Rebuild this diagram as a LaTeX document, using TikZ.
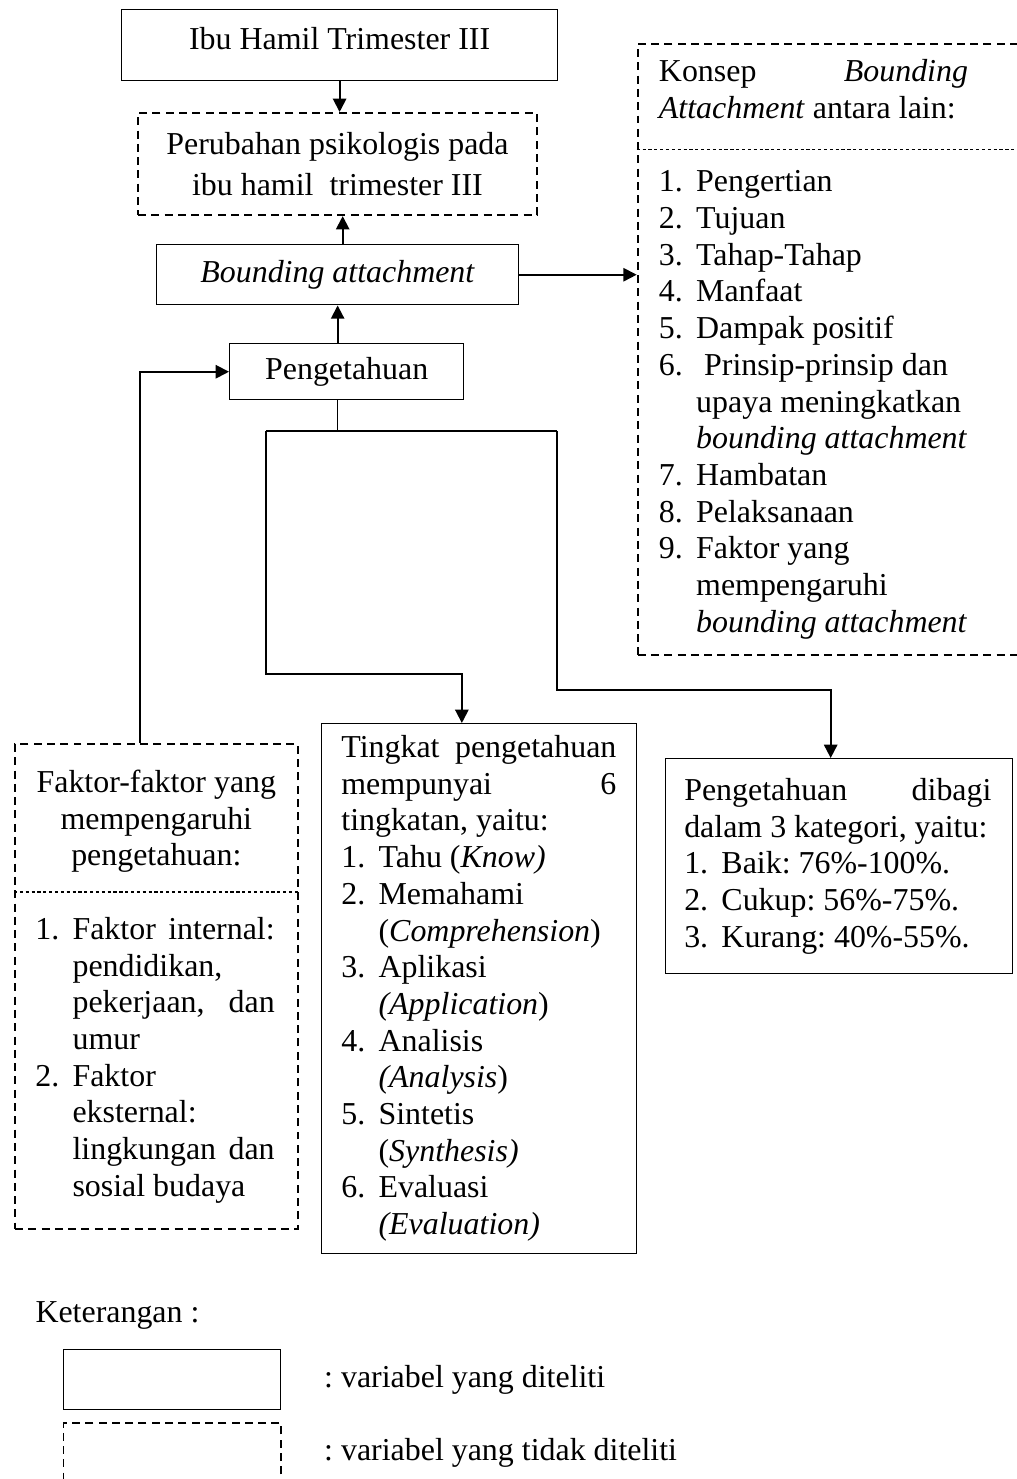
\documentclass[tikz,border=0pt]{standalone}
\usepackage{fontspec}
\setmainfont{Liberation Serif}
\usetikzlibrary{arrows.meta}
\newcommand{\itm}[2]{\makebox[14pt][l]{#1}#2}
\newcommand{\itmc}[1]{\hspace*{14pt}#1}

\begin{document}
\begin{tikzpicture}[x=0.376pt, y=-0.376pt,
  every node/.style={font=\fontsize{12}{13.8}\selectfont\frenchspacing, inner sep=0pt,
    execute at begin node={\spaceskip=0pt\xspaceskip=0pt\relax}},
  box/.style={draw, line width=0.5pt, anchor=north west},
  dbox/.style={draw, line width=0.75pt, dash pattern=on 3pt off 2pt, anchor=north west},
  divline/.style={line width=0.4pt, dash pattern=on 1.2pt off 1pt},
  arr/.style={line width=0.7pt, -{Triangle[length=\l, width=\w]}},
  wire/.style={line width=0.6pt}]
\def\l{5pt}
\def\w{5pt}

\useasboundingbox (0,0) rectangle (1017,1479);

\node[box, minimum width=163.9pt, text height=14.8pt, text depth=11.9pt] (ibu) at (121,9) {Ibu Hamil Trimester III};
\node[dbox, minimum width=150pt, minimum height=38.4pt, align=center] (psiko) at (137,112) {Perubahan psikologis pada\\[1.9pt]ibu hamil~ trimester III};
\node[box, minimum width=136.1pt, minimum height=22.6pt] (bond) at (156,244) {\textit{Bounding attachment}};
\node[box, minimum width=88pt, minimum height=21.1pt] (peng) at (229,343) {Pengetahuan};

\node[dbox, minimum width=151.6pt, minimum height=229.8pt, text width=135.6pt] (konsep) at (636.7,42.7) {%
\makebox[116.2pt]{Konsep\hfill\textit{Bounding}}\\
\textit{Attachment} antara lain:\\[13.8pt]
\itm{1.}{Pengertian}\\
\itm{2.}{Tujuan}\\
\itm{3.}{Tahap-Tahap}\\
\itm{4.}{Manfaat}\\
\itm{5.}{Dampak positif}\\
\itm{6.}{\ Prinsip-prinsip dan}\\
\itmc{upaya meningkatkan}\\
\itmc{\textit{bounding attachment}}\\
\itm{7.}{Hambatan}\\
\itm{8.}{Pelaksanaan}\\
\itm{9.}{Faktor yang}\\
\itmc{mempengaruhi}\\
\itmc{\textit{bounding attachment}}};

\node[dbox, minimum width=106.3pt, minimum height=182.4pt, text width=91pt] (faktor) at (14,743) {%
\makebox[91pt]{Faktor-faktor yang}\\
\makebox[91pt]{mempengaruhi}\\
\makebox[91pt]{pengetahuan:}\\[13.8pt]
\itm{1.}{\makebox[76pt]{Faktor\hfill internal:}}\\
\itmc{pendidikan,}\\
\itmc{\makebox[76pt]{pekerjaan,\hfill dan}}\\
\itmc{umur}\\
\itm{2.}{Faktor}\\
\itmc{eksternal:}\\
\itmc{\makebox[76pt]{lingkungan\hfill dan}}\\
\itmc{sosial budaya}};

\node[box, minimum width=118.6pt, minimum height=199.1pt, text width=103.4pt] (tingkat) at (320.5,723) {%
\makebox[103.4pt]{Tingkat\hfill pengetahuan}\\
\makebox[103.4pt]{mempunyai\hfill 6}\\
tingkatan, yaitu:\\
\itm{1.}{Tahu (\textit{Know)}}\\
\itm{2.}{Memahami}\\
\itmc{(\textit{Comprehension})}\\
\itm{3.}{Aplikasi}\\
\itmc{\textit{(Application})}\\
\itm{4.}{Analisis}\\
\itmc{\textit{(Analysis})}\\
\itm{5.}{Sintetis}\\
\itmc{(\textit{Synthesis)}}\\
\itm{6.}{Evaluasi}\\
\itmc{\textit{(Evaluation)}}};

\node[box, minimum width=130.5pt, minimum height=80.8pt, text width=116.5pt] (dibagi) at (665,758) {%
\makebox[115.5pt]{Pengetahuan\hfill dibagi}\\
dalam 3 kategori, yaitu:\\
\itm{1.}{Baik: 76\%-100\%.}\\
\itm{2.}{Cukup: 56\%-75\%.}\\
\itm{3.}{Kurang: 40\%-55\%.}};

% garis pemisah dalam kotak
\draw[divline] (konsep.west |- 0,149.6) -- (konsep.east |- 0,149.6);
\draw[divline] (faktor.west |- 0,892) -- (faktor.east |- 0,892);

\draw[arr] (ibu.south) -- (ibu.south |- psiko.north);
\draw[arr] ([xshift=1.9pt]bond.north) -- ([xshift=1.9pt]bond.north |- psiko.south);
\draw[arr] (bond.south |- peng.north) -- (bond.south);
\draw[arr] (bond.east) -- (bond.east -| konsep.west);
\draw[arr] ([xshift=-6pt]faktor.north) |- (peng.west);

\coordinate (jl) at (266,431);
\coordinate (jr) at (557,431);
\draw[wire] (bond.south |- peng.south) -- (bond.south |- jl);
\draw[wire] (jl) -- (jr);
\draw[arr] (jl) -- ++(0,243) -| ([xshift=-6.4pt]tingkat.north);
\draw[arr] (jr) -- ++(0,259) -| ([xshift=-3.2pt]dibagi.north);

% keterangan
\node[anchor=west] (ket) at (35,1315) {Keterangan :};
\node[box, minimum width=81.8pt, minimum height=22.6pt] (lgsolid) at (62.5,1349) {};
\node[dbox, minimum width=81.8pt, minimum height=22.6pt] (lgdash) at (62.5,1421.7) {};
\node[anchor=west] (lgsolidtxt) at (323.7,1380) {: variabel yang diteliti};
\node[anchor=west] (lgdashtxt) at (323.7,1453) {: variabel yang tidak diteliti};
%\node at (500,1400) {};
\end{tikzpicture}
\end{document}
